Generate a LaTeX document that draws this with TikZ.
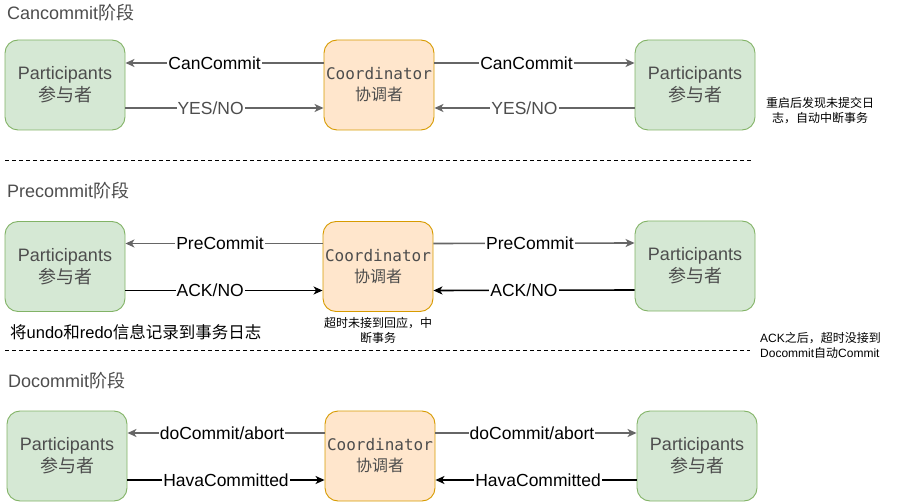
\documentclass[tikz,border=0pt]{standalone}
\usepackage{fontspec}
\setmainfont{Liberation Sans}
\setmonofont{DejaVu Sans Mono}
\newfontfamily\cjk{Noto Sans CJK SC}
\usetikzlibrary{arrows.meta}
\definecolor{pfill}{HTML}{D5E8D4}
\definecolor{pdraw}{HTML}{82B366}
\definecolor{cfill}{HTML}{FFE6CC}
\definecolor{cdraw}{HTML}{D79B00}
\definecolor{txtgray}{HTML}{4D4D4D}
\definecolor{linegray}{HTML}{666666}
\tikzset{
  partbox/.style={draw=pdraw, fill=pfill, line width=0.9pt, rounded corners=13pt,
    minimum width=120pt, minimum height=90pt, inner sep=0pt, align=center,
    text=txtgray, font=\fontsize{18}{22}\selectfont},
  coordbox/.style={draw=cdraw, fill=cfill, line width=0.9pt, rounded corners=13pt,
    minimum width=110pt, minimum height=90pt, inner sep=0pt, align=center,
    text=txtgray, font=\fontsize{16}{21}\selectfont},
  msg/.style={line width=1.6pt, -{Stealth[length=9pt,width=8pt,inset=2.5pt]}},
  graymsg/.style={msg, draw=linegray},
  blackmsg/.style={msg, draw=black},
  lbl/.style={fill=white, inner sep=1pt, font=\fontsize{17.5}{20}\selectfont, text=black},
  title/.style={anchor=west, inner sep=0pt, text=txtgray, font=\fontsize{18}{22}\selectfont},
  note/.style={inner sep=0pt, text=black, font=\fontsize{12}{15}\selectfont},
  sep/.style={line width=0.9pt, dash pattern=on 3.5pt off 3.5pt}
}
\newcommand{\ptext}{Participants\\{\cjk 参与者}}
\newcommand{\ctext}{\texttt{Coordinator}\\{\cjk 协调者}}
\begin{document}
\begin{tikzpicture}[x=1pt,y=-1pt]
\useasboundingbox (0,0) rectangle (901,502);

% titles
\node[title] (t1) at (7,13) {Cancommit{\cjk 阶段}};
\node[title] (t2) at (7,191) {Precommit{\cjk 阶段}};
\node[title] (t3) at (8,381) {Docommit{\cjk 阶段}};

% section 1
\node[partbox] (p1l) at (65,85) {\ptext};
\node[coordbox] (c1) at (379,85) {\ctext};
\node[partbox] (p1r) at (695,85) {\ptext};
\draw[graymsg] ([yshift=22pt]c1.west) -- node[lbl,pos=0.55]{CanCommit} ([yshift=22pt]p1l.east);
\draw[graymsg] ([yshift=-23pt]p1l.east) -- node[lbl,pos=0.43,text=txtgray]{YES/NO} ([yshift=-23pt]c1.west);
\draw[graymsg] ([yshift=22pt]c1.east) -- node[lbl,pos=0.46]{CanCommit} ([yshift=22pt]p1r.west);
\draw[graymsg] ([yshift=-23pt]p1r.west) -- node[lbl,pos=0.55,text=txtgray]{YES/NO} ([yshift=-23pt]c1.east);
\node[note, align=center] (n1) at (820,110.5) {{\cjk 重启后发现未提交日}\\{\cjk 志，自动中断事务}};

\coordinate (d1a) at (5,160);
\coordinate (d1b) at (752,160);
\draw[sep] (d1a) -- (d1b);

% section 2
\node[partbox] (p2l) at (65,266.5) {\ptext};
\node[coordbox] (c2) at (378,266.5) {\ctext};
\node[partbox] (p2r) at (695,266) {\ptext};
\draw[graymsg] ([yshift=23pt]c2.west) -- node[lbl,pos=0.52]{PreCommit} ([yshift=23pt]p2l.east);
\draw[blackmsg] ([yshift=-24pt]p2l.east) -- node[lbl,pos=0.43]{ACK/NO} ([yshift=-24pt]c2.west);
\draw[graymsg] ([yshift=23pt]c2.east) -- node[lbl,pos=0.48]{PreCommit} ([yshift=23pt]p2r.west);
\draw[blackmsg] ([yshift=-24pt]p2r.west) -- node[lbl,pos=0.55]{ACK/NO} ([yshift=-24pt]c2.east);
\node[note, anchor=west, font=\fontsize{16.5}{20}\selectfont] (n4) at (10,332) {{\cjk 将}undo{\cjk 和}redo{\cjk 信息记录到事务日志}};
\node[note, align=center] (n2) at (378,330) {{\cjk 超时未接到回应，中}\\{\cjk 断事务}};
\node[note, align=left, anchor=west] (n3) at (760,345.5) {ACK{\cjk 之后，超时没接到}\\Docommit{\cjk 自动}Commit};

\coordinate (d2a) at (5,350);
\coordinate (d2b) at (750,350);
\draw[sep] (d2a) -- (d2b);

% section 3
\node[partbox] (p3l) at (67,456) {\ptext};
\node[coordbox] (c3) at (380,456) {\ctext};
\node[partbox] (p3r) at (697,456) {\ptext};
\draw[graymsg] ([yshift=23pt]c3.west) -- node[lbl,pos=0.52]{doCommit/abort} ([yshift=23pt]p3l.east);
\draw[blackmsg] ([yshift=-24pt]p3l.east) -- node[lbl,pos=0.5]{HavaCommitted} ([yshift=-24pt]c3.west);
\draw[graymsg] ([yshift=23pt]c3.east) -- node[lbl,pos=0.48]{doCommit/abort} ([yshift=23pt]p3r.west);
\draw[blackmsg] ([yshift=-24pt]p3r.west) -- node[lbl,pos=0.49]{HavaCommitted} ([yshift=-24pt]c3.east);
\end{tikzpicture}
\end{document}
